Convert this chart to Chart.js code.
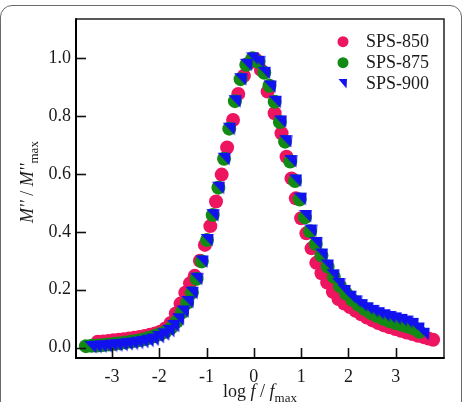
<!DOCTYPE html>
<html>
<head>
<meta charset="utf-8">
<script src="https://cdn.jsdelivr.net/npm/chart.js@4.4.1/dist/chart.umd.min.js"></script>
<style>
  html, body { margin: 0; padding: 0; background: #fff; overflow: hidden; }
  #wrap { position: relative; width: 463px; height: 402px; }
  #card { position: absolute; left: 0px; top: 5px; width: 462px; height: 430px; border: 1.5px solid #6a6a6a; border-radius: 12px; box-sizing: border-box; }
  canvas { position: absolute; left: 0; top: 0; }
</style>
</head>
<body>
<div id="wrap">
  <div id="card"></div>
  <canvas id="c" width="463" height="402"></canvas>
</div>
<script>
// ---- data ----
const seriesNames = ["SPS-850", "SPS-875", "SPS-900"];
const xTicks = [-3, -2, -1, 0, 1, 2, 3];
const yTicks = [0.0, 0.2, 0.4, 0.6, 0.8, 1.0];

const x850 = [-3.30,-3.19,-3.08,-2.97,-2.86,-2.75,-2.64,-2.53,-2.42,-2.31,-2.20,-2.09,-1.98,-1.87,-1.76,-1.65,-1.55,-1.45,-1.35,-1.25,-1.14,-1.035,-0.92,-0.80,-0.68,-0.565,-0.44,-0.33,-0.21,-0.09,0.03,0.15,0.29,0.44,0.585,0.69,0.796,0.887,1.00,1.11,1.22,1.32,1.43,1.55,1.67,1.79,1.91,2.03,2.15,2.27,2.39,2.51,2.63,2.75,2.87,2.99,3.11,3.23,3.35,3.47,3.59,3.69,3.79];
const y850 = [0.020,0.021,0.023,0.025,0.027,0.029,0.031,0.034,0.037,0.040,0.044,0.049,0.055,0.066,0.085,0.118,0.152,0.190,0.222,0.248,0.300,0.355,0.420,0.505,0.598,0.692,0.787,0.877,0.940,0.985,0.998,0.960,0.885,0.810,0.741,0.660,0.585,0.516,0.447,0.395,0.343,0.293,0.257,0.225,0.193,0.168,0.152,0.140,0.127,0.115,0.104,0.094,0.085,0.077,0.070,0.064,0.058,0.052,0.047,0.041,0.036,0.031,0.027];

const x875 = [-3.55,-3.43,-3.31,-3.19,-3.07,-2.95,-2.83,-2.71,-2.59,-2.47,-2.35,-2.23,-2.11,-1.99,-1.87,-1.75,-1.63,-1.52,-1.41,-1.31,-1.21,-1.10,-0.99,-0.87,-0.75,-0.63,-0.52,-0.40,-0.28,-0.16,-0.03,0.10,0.22,0.33,0.44,0.55,0.66,0.77,0.87,0.97,1.08,1.19,1.31,1.43,1.56,1.69,1.82,1.95,2.08,2.21,2.34,2.47,2.60,2.73,2.86,2.99,3.12,3.25,3.38,3.50];
const y875 = [0.005,0.006,0.007,0.009,0.011,0.013,0.015,0.018,0.021,0.024,0.028,0.033,0.039,0.046,0.055,0.068,0.090,0.122,0.155,0.190,0.238,0.298,0.372,0.458,0.553,0.653,0.757,0.852,0.928,0.978,1.000,0.987,0.950,0.905,0.850,0.780,0.712,0.643,0.576,0.512,0.450,0.402,0.358,0.318,0.280,0.245,0.213,0.187,0.165,0.148,0.133,0.120,0.109,0.100,0.092,0.085,0.079,0.073,0.066,0.055];

const x900 = [-3.45,-3.34,-3.23,-3.12,-3.01,-2.90,-2.79,-2.68,-2.57,-2.46,-2.35,-2.24,-2.13,-2.02,-1.91,-1.80,-1.70,-1.60,-1.50,-1.40,-1.31,-1.21,-1.10,-0.99,-0.87,-0.75,-0.63,-0.52,-0.40,-0.28,-0.16,-0.03,0.10,0.22,0.34,0.45,0.56,0.67,0.78,0.88,0.98,1.09,1.20,1.31,1.43,1.55,1.67,1.79,1.91,2.03,2.15,2.27,2.39,2.51,2.63,2.75,2.87,2.99,3.11,3.23,3.35,3.47,3.58];
const y900 = [0.002,0.003,0.004,0.005,0.007,0.008,0.010,0.012,0.014,0.017,0.020,0.024,0.028,0.037,0.046,0.058,0.075,0.098,0.125,0.158,0.190,0.238,0.298,0.372,0.458,0.553,0.653,0.757,0.852,0.928,0.978,1.000,0.988,0.950,0.903,0.850,0.782,0.714,0.645,0.578,0.515,0.455,0.405,0.362,0.322,0.284,0.250,0.220,0.196,0.176,0.160,0.147,0.136,0.127,0.119,0.112,0.106,0.101,0.096,0.090,0.082,0.066,0.048];

const colors = ["#EE1560", "#138A13", "#1212EE"];
const FONT = '"Liberation Serif", "Times New Roman", serif';

function pts(xs, ys) { return xs.map((x, i) => ({ x: x, y: ys[i] })); }

// blue half-triangle marker
function triCanvas(size, col) {
  const cv = document.createElement('canvas');
  cv.width = size; cv.height = size;
  const g = cv.getContext('2d');
  g.fillStyle = col;
  g.beginPath();
  g.moveTo(0.5, 1);
  g.lineTo(size - 0.5, 1);
  g.lineTo(size - 1.5, size - 0.5);
  g.closePath();
  g.fill();
  return cv;
}
const triMarker = triCanvas(14, colors[2]);

const framePlugin = {
  id: 'frame',
  afterDatasetsDraw(chart) {
    const ctx = chart.ctx, a = chart.chartArea;
    const xs = chart.scales.x, ys = chart.scales.y;
    ctx.save();
    // ticks inward
    ctx.strokeStyle = '#111';
    ctx.lineWidth = 1.6;
    xTicks.forEach(v => {
      const px = Math.round(xs.getPixelForValue(v)) + 0.5;
      ctx.beginPath(); ctx.moveTo(px, a.bottom); ctx.lineTo(px, a.bottom - 10); ctx.stroke();
    });
    yTicks.forEach(v => {
      const py = Math.round(ys.getPixelForValue(v)) + 0.5;
      ctx.beginPath(); ctx.moveTo(a.left, py); ctx.lineTo(a.left + 10, py); ctx.stroke();
    });
    // frame
    ctx.strokeStyle = '#222';
    ctx.lineWidth = 1.5;
    ctx.beginPath();
    ctx.moveTo(a.left, a.top); ctx.lineTo(a.right, a.top); ctx.lineTo(a.right, a.bottom);
    ctx.stroke();
    ctx.strokeStyle = '#000';
    ctx.lineWidth = 2;
    ctx.beginPath();
    ctx.moveTo(a.left, a.top - 0.75); ctx.lineTo(a.left, a.bottom); ctx.lineTo(a.right + 0.75, a.bottom);
    ctx.stroke();

    // legend
    const lx = 343, ly = [41.7, 62.7, 83.5];
    ctx.font = '18px ' + FONT;
    ctx.textBaseline = 'middle';
    ctx.textAlign = 'left';
    for (let i = 0; i < 3; i++) {
      if (i < 2) {
        ctx.fillStyle = colors[i];
        ctx.beginPath(); ctx.arc(lx, ly[i], 5.5, 0, Math.PI * 2); ctx.fill();
      } else {
        ctx.fillStyle = colors[2];
        ctx.beginPath();
        ctx.moveTo(lx - 4.5, ly[i] - 4.5); ctx.lineTo(lx + 4, ly[i] - 4.5); ctx.lineTo(lx + 3.5, ly[i] + 5);
        ctx.closePath(); ctx.fill();
      }
      ctx.fillStyle = '#1a1a1a';
      ctx.fillText(seriesNames[i], 366, ly[i] + 1);
    }

    // axis titles
    ctx.fillStyle = '#1a1a1a';
    ctx.textBaseline = 'alphabetic';
    const parts = [
      { t: 'log ', f: '18px ' + FONT, dy: 0 },
      { t: 'f', f: 'italic 18px ' + FONT, dy: 0 },
      { t: ' / ', f: '18px ' + FONT, dy: 0 },
      { t: 'f', f: 'italic 18px ' + FONT, dy: 0 },
      { t: 'max', f: '13px ' + FONT, dy: 5 }
    ];
    function drawParts(list, cx, by) {
      let w = 0;
      list.forEach(p => { ctx.font = p.f; p.w = ctx.measureText(p.t).width; w += p.w; });
      let x = cx - w / 2;
      list.forEach(p => { ctx.font = p.f; ctx.fillText(p.t, x, by + p.dy); x += p.w; });
    }
    ctx.textAlign = 'left';
    drawParts(parts, 260, 397);
    const yparts = [
      { t: "M''", f: 'italic 18px ' + FONT, dy: 0 },
      { t: ' / ', f: '18px ' + FONT, dy: 0 },
      { t: "M''", f: 'italic 18px ' + FONT, dy: 0 },
      { t: 'max', f: '13px ' + FONT, dy: 5 }
    ];
    ctx.save();
    ctx.translate(33, 182);
    ctx.rotate(-Math.PI / 2);
    drawParts(yparts, 0, 0);
    ctx.restore();
    ctx.restore();
  }
};

new Chart(document.getElementById('c'), {
  type: 'scatter',
  data: {
    datasets: [
      { label: seriesNames[0], data: pts(x850, y850), backgroundColor: colors[0], borderWidth: 0, pointRadius: 7, order: 3 },
      { label: seriesNames[1], data: pts(x875, y875), backgroundColor: colors[1], borderWidth: 0, pointRadius: 7, order: 2 },
      { label: seriesNames[2], data: pts(x900, y900), backgroundColor: colors[2], borderWidth: 0, pointStyle: triMarker, order: 1 }
    ]
  },
  options: {
    responsive: false,
    animation: false,
    events: [],
    layout: { padding: { left: 0, top: 19, right: 19, bottom: 0 } },
    plugins: { legend: { display: false }, tooltip: { enabled: false } },
    scales: {
      x: {
        type: 'linear', min: -3.76, max: 4.02,
        afterFit(s) { s.height = 44; },
        afterBuildTicks(s) { s.ticks = xTicks.map(v => ({ value: v })); },
        grid: { display: false, drawTicks: false },
        border: { display: false },
        ticks: { color: '#1a1a1a', font: { family: FONT, size: 18 }, padding: 8, maxRotation: 0, autoSkip: false,
                 callback: v => String(v) }
      },
      y: {
        type: 'linear', min: -0.036, max: 1.136,
        afterFit(s) { s.width = 76; },
        afterBuildTicks(s) { s.ticks = yTicks.map(v => ({ value: v })); },
        grid: { display: false, drawTicks: false },
        border: { display: false },
        ticks: { color: '#1a1a1a', font: { family: FONT, size: 18 }, padding: 5, autoSkip: false,
                 callback: v => Number(v).toFixed(1) }
      }
    }
  },
  plugins: [framePlugin]
});
</script>
</body>
</html>
